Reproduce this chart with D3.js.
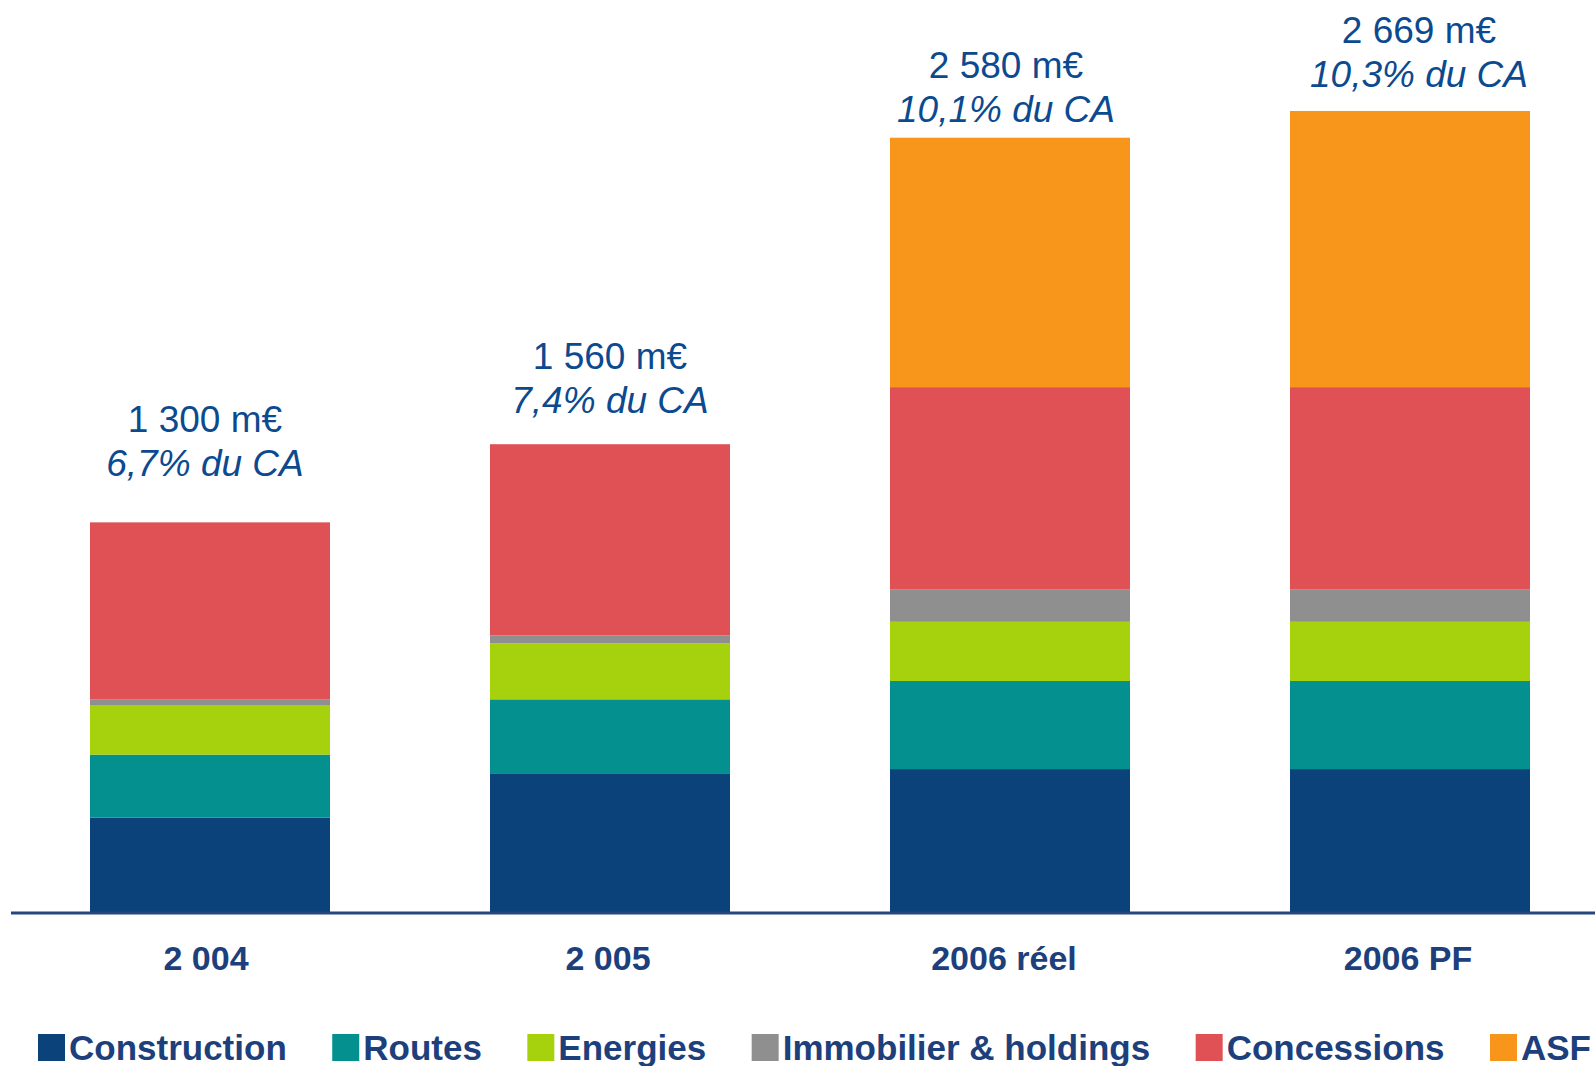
<!DOCTYPE html>
<html>
<head>
<meta charset="utf-8">
<script src="https://cdn.jsdelivr.net/npm/d3@7"></script>
<style>
  html, body { margin: 0; padding: 0; background: #ffffff; }
  svg { display: block; }
</style>
</head>
<body>
<svg id="chart" width="1595" height="1066"></svg>
<script>
// ---- Data ----
const categories = ["2 004", "2 005", "2006 réel", "2006 PF"];
const seriesNames = ["Construction", "Routes", "Energies", "Immobilier & holdings", "Concessions", "ASF"];
const construction = [317, 465, 479, 479];
const routes       = [210, 246, 293, 293];
const energies     = [163, 186, 197, 197];
const immobilier   = [20, 27, 107, 107];
const concessions  = [590, 636, 674, 674];
const asf          = [0, 0, 830, 919];
const totalLabels  = ["1 300 m€", "1 560 m€", "2 580 m€", "2 669 m€"];
const shareLabels  = ["6,7% du CA", "7,4% du CA", "10,1% du CA", "10,3% du CA"];

// ---- Layout / style ----
const colors = ["#0b427a", "#03908f", "#a5d20c", "#8f8f8f", "#df5155", "#f8961b"];
const labelGap = [46, 31, 16, 24];   // distance from bar top to 2nd label line baseline
const labelDx  = [-5, 0, -4, 9];
const tickDx   = [-4, -2, -6, -2];
const W = 1595, H = 1066;
const baseY = 913;

const svg = d3.select("#chart");

const rows = categories.map((c, i) => ({
  cat: c,
  "Construction": construction[i],
  "Routes": routes[i],
  "Energies": energies[i],
  "Immobilier & holdings": immobilier[i],
  "Concessions": concessions[i],
  "ASF": asf[i]
}));

const stack = d3.stack().keys(seriesNames)(rows);

const x = d3.scaleBand().domain(categories).range([90, 1530]).paddingInner(0.4).paddingOuter(0);
const y = d3.scaleLinear().domain([0, 3000]).range([baseY, baseY - 3000 * 0.3005]);
const color = d3.scaleOrdinal().domain(seriesNames).range(colors);

// Bars
svg.append("g").selectAll("g")
  .data(stack)
  .join("g")
  .attr("fill", d => color(d.key))
  .selectAll("rect")
  .data(d => d)
  .join("rect")
  .attr("x", d => x(d.data.cat))
  .attr("width", x.bandwidth())
  .attr("y", d => y(d[1]))
  .attr("height", d => Math.max(0, y(d[0]) - y(d[1])));

// Axis line
svg.append("line")
  .attr("x1", 11).attr("x2", W)
  .attr("y1", baseY).attr("y2", baseY)
  .attr("stroke", "#26467e").attr("stroke-width", 3);

// Category axis labels
const xAxis = svg.append("g")
  .attr("transform", `translate(0,${baseY})`)
  .call(d3.axisBottom(x).tickSize(0).tickPadding(33));
xAxis.select(".domain").remove();
xAxis.selectAll("text")
  .attr("font-family", "'Liberation Sans', Arial, sans-serif")
  .attr("font-size", 34)
  .attr("font-weight", "bold")
  .attr("fill", "#1d3f7c")
  .attr("dx", (d, i) => tickDx[i]);

// Value labels
const totals = categories.map((c, i) => construction[i] + routes[i] + energies[i] + immobilier[i] + concessions[i] + asf[i]);
const lab = svg.append("g")
  .attr("font-family", "'Liberation Sans', Arial, sans-serif")
  .attr("font-size", 37)
  .attr("fill", "#0c4a90")
  .attr("text-anchor", "middle");
categories.forEach((c, i) => {
  const cx = x(c) + x.bandwidth() / 2 + labelDx[i];
  const b2 = y(totals[i]) - labelGap[i];
  lab.append("text").attr("x", cx).attr("y", b2 - 44).text(totalLabels[i]);
  lab.append("text").attr("x", cx).attr("y", b2).attr("font-style", "italic").text(shareLabels[i]);
});

// Legend
const leg = svg.append("g")
  .attr("font-family", "'Liberation Sans', Arial, sans-serif")
  .attr("font-size", 35)
  .attr("font-weight", "bold")
  .attr("fill", "#1d3f7c");
const sq = 27, sqGap = 4, legStart = 38, legEnd = 1591, legBase = 1060;
const items = seriesNames.map(n => {
  const t = leg.append("text").attr("y", legBase).text(n);
  return { name: n, t, w: t.node().getComputedTextLength() };
});
const used = d3.sum(items, d => d.w + sq + sqGap);
const gap = (legEnd - legStart - used) / (items.length - 1);
let cx = legStart;
items.forEach(it => {
  leg.append("rect")
    .attr("x", cx).attr("y", 1034)
    .attr("width", sq).attr("height", sq)
    .attr("fill", color(it.name));
  it.t.attr("x", cx + sq + sqGap);
  cx += sq + sqGap + it.w + gap;
});
</script>
</body>
</html>
